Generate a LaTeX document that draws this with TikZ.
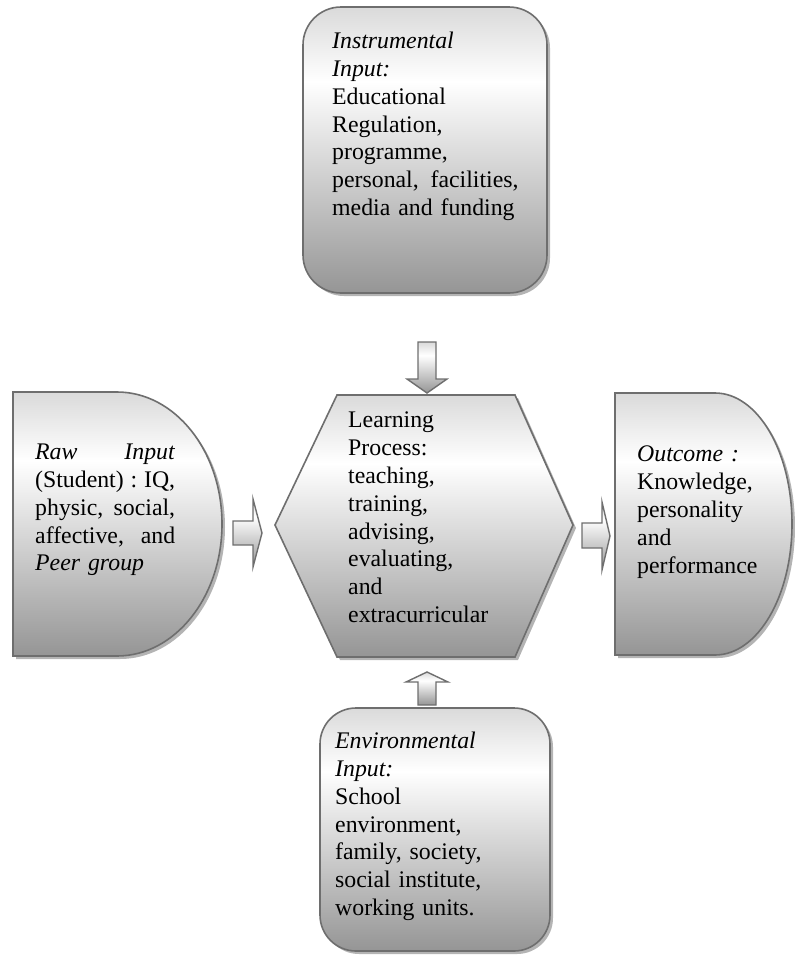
\documentclass[tikz,border=0pt]{standalone}
\usepackage{fontspec}
\setmainfont{Liberation Serif}
\usetikzlibrary{shadows}

\definecolor{edge}{HTML}{6E6E6E}
\definecolor{shadeD}{HTML}{959595}
\definecolor{shadeT}{HTML}{DADADA}
\definecolor{shadowgray}{HTML}{B4B4B4}

% light band near the top, fading to mid gray at the bottom
\pgfdeclareverticalshading{boxfade}{100bp}{%
  color(0bp)=(shadeD); color(25bp)=(shadeD);
  color(62bp)=(white); color(75bp)=(shadeT); color(100bp)=(shadeT)}

\tikzset{
  panel/.style={draw=edge, line width=1.6pt, shading=boxfade,
    drop shadow={shadow xshift=3pt, shadow yshift=-3pt, fill=shadowgray, opacity=1}},
  blockarrow/.style={draw=edge, line width=1.4pt, shading=boxfade, line join=miter},
  label/.style={anchor=north west, inner sep=0pt, align=left,
    font=\fontsize{23.8}{27.8}\selectfont},
}

\begin{document}
\begin{tikzpicture}[x=1pt, y=-1pt]
\useasboundingbox (0,0) rectangle (795,956);

% ---- shapes ----
% instrumental input (top)
\path[panel, rounded corners=38pt] (303,7) rectangle (547,293);
% environmental input (bottom)
\path[panel, rounded corners=36pt] (320,708) rectangle (550,951);
% raw input (left, D shape)
\path[panel] (13,392) -- (117,392)
  arc[start angle=-90, end angle=90, x radius=105, y radius=132]
  -- (13,656) -- cycle;
% outcome (right, D shape)
\path[panel] (615,393) -- (715,393)
  arc[start angle=-90, end angle=90, x radius=77, y radius=131]
  -- (615,655) -- cycle;
% learning process (hexagon)
\path[panel] (337,395) -- (515,395) -- (573,525) -- (515,657)
  -- (337,657) -- (275,525) -- cycle;

% ---- texts ----
\node[label, text width=195pt] (instr) at (332,32)
  {\textit{Instrumental}\\\textit{Input:}\\Educational\\Regulation,\\programme,\\personal,\ \,facilities,\\media and funding};
\node[label, text width=140pt] (raw) at (35,444)
  {\textit{Raw}\hfill\textit{Input}\\(Student)\hfill:\hfill IQ,\\physic,\hfill social,\\affective,\hfill and\\\textit{Peer group}};
\node[label, text width=150pt] (proc) at (348,412)
  {Learning\\Process:\\teaching,\\training,\\advising,\\evaluating,\\and\\extracurricular};
\node[label, text width=150pt] (outc) at (637,446)
  {\textit{Outcome :}\\Knowledge,\\personality\\and\\performance};
\node[label, text width=200pt] (envi) at (335,732)
  {\textit{Environmental}\\\textit{Input:}\\School\\environment,\\family, society,\\social institute,\\working units.};

% ---- block arrows ----
% instrumental -> process
\path[blockarrow] (418,342) -- (436,342) -- (436,379) -- (447,379)
  -- (427,393) -- (407,379) -- (418,379) -- cycle;
% environmental -> process
\path[blockarrow] (418,705) -- (436,705) -- (436,682) -- (448,682)
  -- (427,672) -- (406,682) -- (418,682) -- cycle;
% raw input -> process
\path[blockarrow] (233,521) -- (253,521) -- (253,499) -- (262,533)
  -- (253,567) -- (253,545) -- (233,545) -- cycle;
% process -> outcome
\path[blockarrow] (582,523) -- (602,523) -- (602,502) -- (610,536)
  -- (602,570) -- (602,548) -- (582,548) -- cycle;
\end{tikzpicture}
\end{document}
